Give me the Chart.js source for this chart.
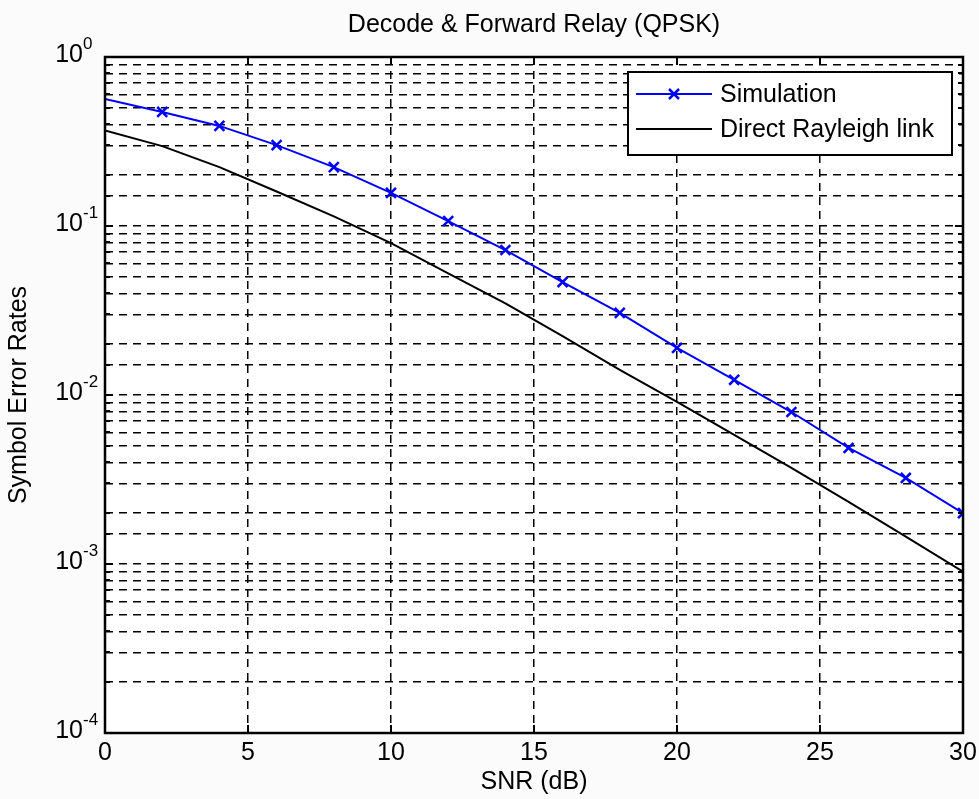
<!DOCTYPE html>
<html>
<head>
<meta charset="utf-8">
<title>Decode &amp; Forward Relay (QPSK)</title>
<script src="https://cdn.jsdelivr.net/npm/chart.js@4/dist/chart.umd.min.js"></script>
<style>
  html, body { margin: 0; padding: 0; background: #fbfbfb; }
  #wrap { width: 979px; height: 799px; }
</style>
</head>
<body>
<div id="wrap"><canvas id="ser" width="979" height="799"></canvas></div>
<script>
// SNR axis (dB) and the two symbol-error-rate curves
const snrDb = [0, 2, 4, 6, 8, 10, 12, 14, 16, 18, 20, 22, 24, 26, 28, 30];
const simulationSer = [0.564, 0.473, 0.391, 0.301, 0.223, 0.157, 0.107, 0.0721,
                       0.0466, 0.0306, 0.0190, 0.0123, 0.00793, 0.00486, 0.00323, 0.00200];
const directRayleighSer = [0.367, 0.297, 0.223, 0.160, 0.114, 0.0793, 0.0525, 0.0348,
                           0.0223, 0.0141, 0.0091, 0.0058, 0.0037, 0.00233, 0.00145, 0.00090];

// Tick labels
const xTickValues = [0, 5, 10, 15, 20, 25, 30];
const yDecadeExponents = [-4, -3, -2, -1, 0];

// Series names
const seriesNames = ['Simulation', 'Direct Rayleigh link'];
const chartTitle = 'Decode & Forward Relay (QPSK)';
const xTitle = 'SNR (dB)';
const yTitle = 'Symbol Error Rates';

const FONT = '"Liberation Sans", Arial, Helvetica, sans-serif';
const BLUE = '#0000ff';

const toPoints = (ys) => ys.map((y, i) => ({ x: snrDb[i], y }));

// Background, frame, inward ticks, labels and legend (MATLAB-style axes)
const axesDecor = {
  id: 'axesDecor',
  beforeDraw(chart) {
    const { ctx, chartArea: a } = chart;
    ctx.save();
    ctx.fillStyle = '#fbfbfb';
    ctx.fillRect(0, 0, chart.width, chart.height);
    ctx.fillStyle = '#ffffff';
    ctx.fillRect(a.left, a.top, a.right - a.left, a.bottom - a.top);
    ctx.restore();
  },
  afterDraw(chart) {
    const { ctx, chartArea: a, scales } = chart;
    const xs = scales.x, ys = scales.y;
    ctx.save();

    // inward tick marks
    ctx.strokeStyle = '#000';
    ctx.lineWidth = 2;
    ctx.setLineDash([]);
    ys.ticks.forEach(t => {
      const py = Math.round(ys.getPixelForValue(t.value));
      const major = Math.abs(Math.log10(t.value) - Math.round(Math.log10(t.value))) < 1e-6;
      const len = major ? 8 : 5;
      ctx.beginPath();
      ctx.moveTo(a.left, py); ctx.lineTo(a.left + len, py);
      ctx.moveTo(a.right, py); ctx.lineTo(a.right - len, py);
      ctx.stroke();
    });
    xs.ticks.forEach(t => {
      const px = Math.round(xs.getPixelForValue(t.value));
      ctx.beginPath();
      ctx.moveTo(px, a.bottom); ctx.lineTo(px, a.bottom - 8);
      ctx.moveTo(px, a.top); ctx.lineTo(px, a.top + 8);
      ctx.stroke();
    });

    // axes box
    ctx.lineWidth = 2.5;
    ctx.strokeRect(a.left, a.top, a.right - a.left, a.bottom - a.top);

    // x tick labels
    ctx.fillStyle = '#000';
    ctx.font = '25px ' + FONT;
    ctx.textAlign = 'center';
    ctx.textBaseline = 'alphabetic';
    xTickValues.forEach(v => {
      ctx.fillText(String(v), xs.getPixelForValue(v), a.bottom + 27);
    });

    // y tick labels as 10^n
    yDecadeExponents.forEach(n => {
      const py = ys.getPixelForValue(Math.pow(10, n));
      ctx.font = '25px ' + FONT;
      ctx.textAlign = 'right';
      ctx.fillText('10', 83, py + 5);
      ctx.font = '17px ' + FONT;
      ctx.textAlign = 'left';
      ctx.fillText(String(n), 83, py - 8);
    });

    // titles
    ctx.font = '25px ' + FONT;
    ctx.textAlign = 'center';
    ctx.fillText(chartTitle, (a.left + a.right) / 2, 32);
    ctx.fillText(xTitle, (a.left + a.right) / 2, 789);
    ctx.save();
    ctx.translate(26, (a.top + a.bottom) / 2);
    ctx.rotate(-Math.PI / 2);
    ctx.fillText(yTitle, 0, 0);
    ctx.restore();

    // legend
    const lx = 628, ly = 72, lw = 324, lh = 83;
    ctx.fillStyle = '#ffffff';
    ctx.fillRect(lx, ly, lw, lh);
    ctx.lineWidth = 2;
    ctx.strokeStyle = '#000';
    ctx.strokeRect(lx, ly, lw, lh);
    const rows = [ly + 22, ly + 57];
    const sx0 = lx + 8, sx1 = lx + 84, tx = lx + 92;
    chart.data.datasets.forEach((ds, i) => {
      const ry = rows[i];
      ctx.strokeStyle = ds.borderColor;
      ctx.lineWidth = 2;
      ctx.beginPath();
      ctx.moveTo(sx0, ry); ctx.lineTo(sx1, ry);
      ctx.stroke();
      if (i === 0) {
        const cx = (sx0 + sx1) / 2, r = 5;
        ctx.lineWidth = 2.5;
        ctx.beginPath();
        ctx.moveTo(cx - r, ry - r); ctx.lineTo(cx + r, ry + r);
        ctx.moveTo(cx + r, ry - r); ctx.lineTo(cx - r, ry + r);
        ctx.stroke();
      }
      ctx.fillStyle = '#000';
      ctx.font = '25px ' + FONT;
      ctx.textAlign = 'left';
      ctx.textBaseline = 'middle';
      ctx.fillText(ds.label, tx, ry + 1);
    });
    ctx.restore();
  }
};

new Chart(document.getElementById('ser'), {
  type: 'line',
  data: {
    datasets: [
      {
        label: seriesNames[0],
        data: toPoints(simulationSer),
        borderColor: BLUE,
        backgroundColor: BLUE,
        borderWidth: 2,
        pointStyle: 'crossRot',
        pointRadius: snrDb.map(v => (v === 0 ? 0 : 7)),
        pointBorderWidth: 2.5,
        pointBorderColor: BLUE,
        tension: 0,
        fill: false
      },
      {
        label: seriesNames[1],
        data: toPoints(directRayleighSer),
        borderColor: '#000000',
        backgroundColor: '#000000',
        borderWidth: 2,
        pointRadius: 0,
        tension: 0,
        fill: false
      }
    ]
  },
  options: {
    responsive: false,
    animation: false,
    layout: { padding: { left: 105, top: 57, right: 16, bottom: 66 } },
    plugins: {
      legend: { display: false },
      tooltip: { enabled: false },
      title: { display: false }
    },
    scales: {
      x: {
        type: 'linear',
        min: 0,
        max: 30,
        ticks: { display: false, stepSize: 5 },
        grid: { color: '#000', lineWidth: 1.5, drawTicks: false },
        border: { display: false, dash: [8, 6] }
      },
      y: {
        type: 'logarithmic',
        min: 1e-4,
        max: 1,
        ticks: { display: false, autoSkip: false },
        grid: { color: '#000', lineWidth: 1.5, drawTicks: false },
        border: { display: false, dash: [8, 6] }
      }
    }
  },
  plugins: [axesDecor]
});
</script>
</body>
</html>
